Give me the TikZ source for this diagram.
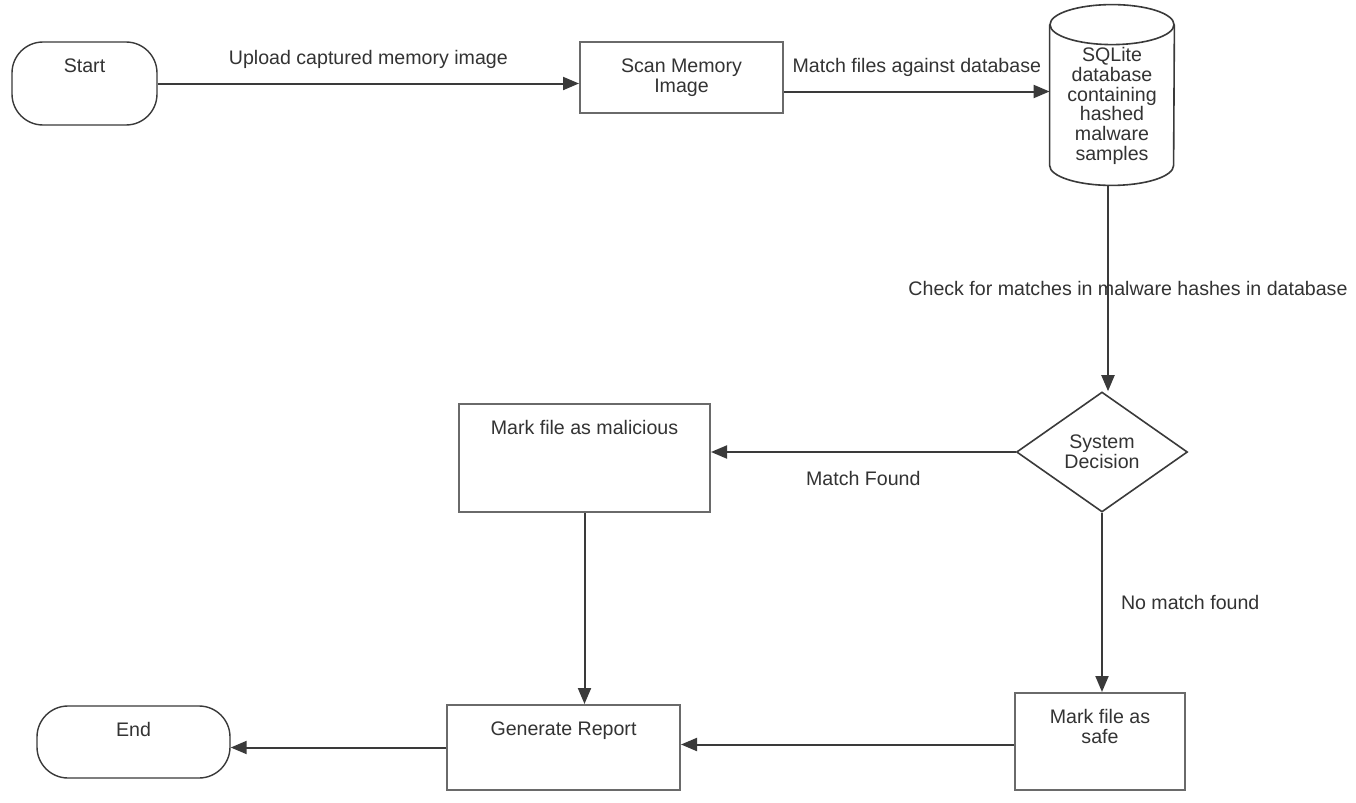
\documentclass[tikz,border=0pt]{standalone}
\usepackage{fontspec}
\setmainfont{Liberation Sans}
\usepackage{tikz}
\usetikzlibrary{arrows.meta,positioning,calc,shapes.geometric}
\definecolor{Ink}{HTML}{333333}
\definecolor{Edge}{HTML}{3A3A3A}
\definecolor{Frame}{HTML}{6A6A6A}

\begin{document}
\begin{tikzpicture}[x=0.5pt,y=-0.5pt,
 every node/.style={font=\fontsize{9.8}{9.9}\selectfont,text=Ink},
 term/.style={draw=Edge,line width=0.7pt,rounded corners=15.5pt,inner sep=0pt},
 proc/.style={draw=Frame,line width=1pt,inner sep=0pt,align=center},
 decide/.style={diamond,aspect=1.425,draw=Edge,line width=0.8pt,inner sep=0pt,align=center},
 toplbl/.style={anchor=north,inner sep=0pt,yshift=-8.5pt,align=center},
 dbline/.style={draw=Edge,line width=0.8pt},
 arr/.style={draw=Edge,line width=1pt,-{Triangle[length=8pt,width=6.5pt]}},
 elbl/.style={inner sep=0pt}]
\useasboundingbox (0,0) rectangle (1356,803);
\fill[white] (0,0) rectangle (1356,803);
% boxes
\node[term,minimum width=72.5pt,minimum height=41.5pt,label={[toplbl]north:Start}] (start) at (84.5,83.5) {};
\node[proc,minimum width=101.5pt,minimum height=35.5pt] (scan) at (681.5,77.5) {Scan Memory\\Image};
\node[minimum width=62pt,minimum height=60pt,inner sep=0pt,align=center] (db) at (1112,106)
 {SQLite\\database\\containing\\hashed\\malware\\samples};
\draw[dbline] ($(db.north west)+(0,-21)$) -- ($(db.south west)+(0,-1)$)
 arc[start angle=180,end angle=0,x radius=62,y radius=20] -- ($(db.north east)+(0,-21)$);
\draw[dbline] ($(db.north)+(0,-21)$) ellipse[x radius=62,y radius=20];
\node[decide,minimum width=85.5pt,minimum height=60pt] (dec) at (1102,452) {System\\Decision};
\node[proc,minimum width=125.5pt,minimum height=54pt,label={[toplbl]north:Mark file as malicious}] (mal) at (584.5,458) {};
\node[proc,minimum width=85pt,minimum height=48.5pt,label={[toplbl]north:Mark file as\\safe}] (safe) at (1100,741.5) {};
\node[proc,minimum width=116.5pt,minimum height=42.5pt,label={[toplbl]north:Generate Report}] (gen) at (563.5,747.5) {};
\node[term,minimum width=96.5pt,minimum height=36pt,label={[toplbl]north:End}] (end) at (133.5,742) {};
% flow
\draw[arr] (start.east) -- (start.east -| scan.west)
 node[elbl,midway,yshift=12pt] {Upload captured memory image};
\draw[arr] ([yshift=-7pt]scan.east) -- ([yshift=-7pt]scan.east -| db.west)
 node[elbl,midway,yshift=12pt] {Match files against database};
\draw[arr] ([xshift=-2pt,yshift=-10pt]db.south) -- ([xshift=-2pt]db.south |- dec.north)
 node[elbl,midway,xshift=10pt] {Check for matches in malware hashes in database};
\draw[arr] (dec.west) -- (dec.west -| mal.east)
 node[elbl,midway,yshift=-13pt] {Match Found};
\draw[arr] (dec.south) -- (dec.south |- safe.north)
 node[elbl,midway,anchor=west,xshift=9pt] {No match found};
\draw[arr] (mal.south) -- (mal.south |- gen.north);
\draw[arr] ([yshift=-1.5pt]safe.west) -- ([yshift=-1.5pt]safe.west -| gen.east);
\draw[arr] (gen.west) -- (gen.west -| end.east);
\end{tikzpicture}
\end{document}
